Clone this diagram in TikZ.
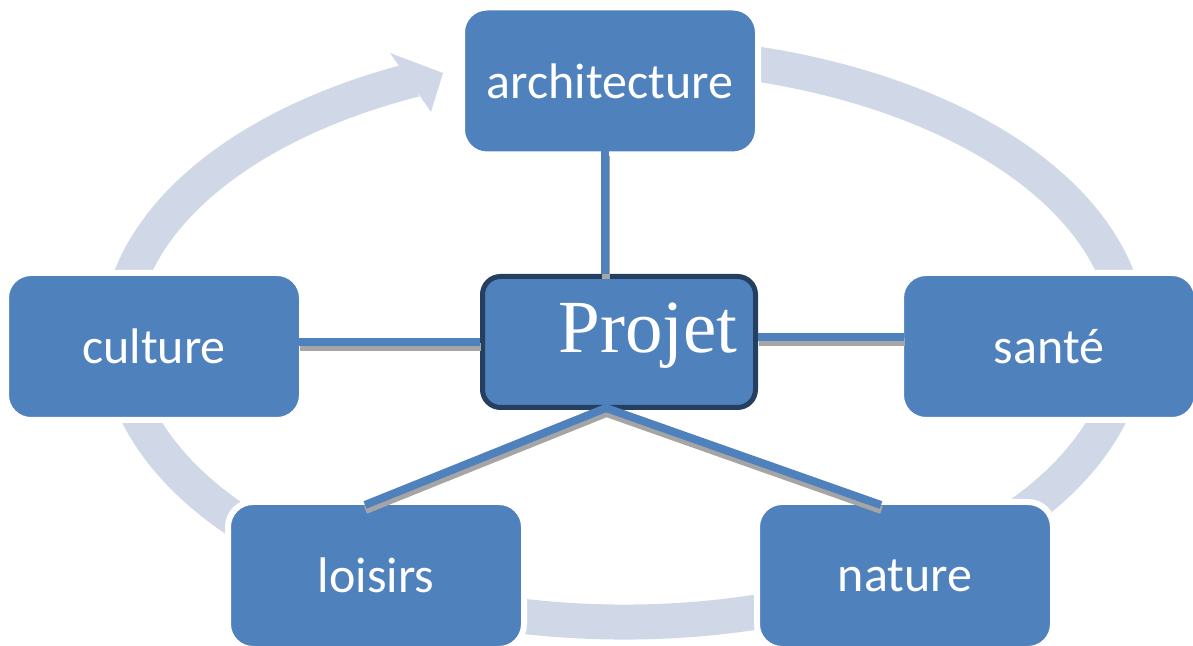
\documentclass[tikz,border=0pt]{standalone}
\usepackage{fontspec}
\setmainfont{Carlito}
\newfontfamily\serifp{Liberation Serif}
\definecolor{boxblue}{HTML}{4F81BD}
\definecolor{ringc}{HTML}{D0D8E8}
\definecolor{darkb}{HTML}{243F60}
\definecolor{shad}{HTML}{A5A5A5}
\begin{document}
\begin{tikzpicture}[x=1pt,y=1pt,
  box/.style={rectangle, rounded corners=25pt, fill=boxblue, draw=white,
    line width=6pt, minimum width=296pt, minimum height=147pt, inner sep=0pt,
    outer sep=-3pt, text=white, font=\fontsize{50}{60}\selectfont},
  hub/.style={rectangle, rounded corners=18pt, fill=boxblue, draw=darkb,
    line width=5pt, minimum width=273pt, minimum height=131pt, inner sep=0pt,
    text=white, font=\serifp\fontsize{75}{80}\selectfont,
    text height=38pt, text depth=16pt},
  conn/.style={draw=boxblue, line width=8pt,
    preaction={draw=shad, line width=8pt, transform canvas={shift={(0.5pt,-5pt)}}}},
  ring/.style={draw=ringc, line width=35pt}]
\useasboundingbox (0,0) rectangle (1193,645);
% cycle band
\draw[ring] (624,307) ++(114.5:505 and 284)
  arc[start angle=114.5, end angle=440, x radius=505, y radius=284];
\fill[ringc] (390,592) -- (443,572) -- (431,533) -- cycle;
% nodes
\node[box] (arch) at (610,564) {architecture};
\node[box] (culture) at (154,298.5) {culture};
\node[box] (sante) at (1049,298.5) {santé};
\node[box] (loisirs) at (376,69.5) {loisirs};
\node[box] (nature) at (905,69.5) {nature};
\node[hub] (projet) at (619,303) {\hspace*{58pt}Projet};
% connectors
\coordinate (apex) at ([xshift=-13pt,yshift=2pt]projet.south);
\draw[conn] ([xshift=-5pt]arch.south) -- ([xshift=-5pt]arch.south |- projet.north);
\draw[conn] (projet.west) -- (projet.west -| culture.east);
\draw[conn] ([yshift=4.5pt]projet.east) -- ([yshift=4.5pt]projet.east -| sante.west);
\draw[conn] ([xshift=-11pt]loisirs.north) -- (apex) -- ([xshift=-24pt]nature.north);
\end{tikzpicture}
\end{document}
